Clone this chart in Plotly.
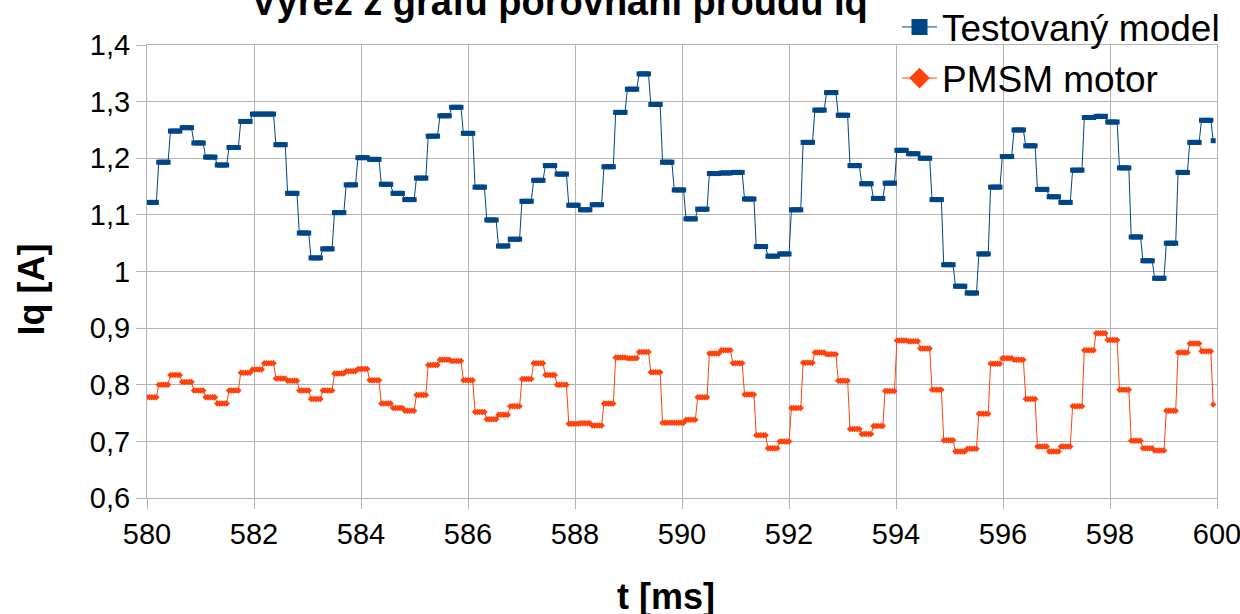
import numpy as np
import plotly.graph_objects as go

# ---- data ----
t_start_ms = 580.0          # first sample time
step_ms = 0.219             # duration of one held step
samples_per_step = 5        # samples drawn within each step
t_end_ms = 599.93           # last sample time

testovany_model = [
    1.122, 1.193, 1.248, 1.254, 1.227, 1.202, 1.188, 1.219, 1.265, 1.278,
    1.278, 1.224, 1.138, 1.068, 1.024, 1.040, 1.104, 1.153, 1.201, 1.198,
    1.154, 1.138, 1.127, 1.165, 1.239, 1.275, 1.290, 1.244, 1.149, 1.091,
    1.045, 1.057, 1.124, 1.161, 1.187, 1.172, 1.117, 1.109, 1.118, 1.185,
    1.281, 1.322, 1.349, 1.295, 1.193, 1.144, 1.093, 1.110, 1.173, 1.174,
    1.175, 1.128, 1.044, 1.027, 1.031, 1.109, 1.228, 1.285, 1.316, 1.276,
    1.187, 1.155, 1.129, 1.156, 1.214, 1.208, 1.200, 1.127, 1.012, 0.974,
    0.962, 1.031, 1.149, 1.203, 1.250, 1.222, 1.145, 1.132, 1.122, 1.179,
    1.272, 1.274, 1.264, 1.183, 1.061, 1.019, 0.988, 1.050, 1.175, 1.228,
    1.267, 1.231,
]

pmsm_motor = [
    0.778, 0.800, 0.817, 0.805, 0.790, 0.778, 0.767, 0.790, 0.821, 0.827,
    0.838, 0.811, 0.807, 0.790, 0.775, 0.790, 0.820, 0.824, 0.828, 0.808,
    0.767, 0.759, 0.754, 0.782, 0.835, 0.844, 0.842, 0.808, 0.752, 0.739,
    0.747, 0.762, 0.810, 0.838, 0.817, 0.800, 0.731, 0.732, 0.728, 0.767,
    0.848, 0.847, 0.858, 0.822, 0.733, 0.733, 0.738, 0.778, 0.855, 0.861,
    0.838, 0.783, 0.711, 0.688, 0.700, 0.759, 0.839, 0.857, 0.854, 0.807,
    0.722, 0.713, 0.727, 0.789, 0.878, 0.877, 0.864, 0.791, 0.702, 0.682,
    0.687, 0.749, 0.837, 0.847, 0.844, 0.775, 0.691, 0.682, 0.691, 0.762,
    0.861, 0.891, 0.879, 0.791, 0.701, 0.688, 0.684, 0.754, 0.857, 0.873,
    0.859, 0.765,
]

series_names = ["Testovaný model", "PMSM motor"]
x_tick_vals = [580, 582, 584, 586, 588, 590, 592, 594, 596, 598, 600]
x_tick_labels = ["580", "582", "584", "586", "588", "590", "592", "594", "596", "598", "600"]
y_tick_vals = [0.6, 0.7, 0.8, 0.9, 1.0, 1.1, 1.2, 1.3, 1.4]
y_tick_labels = ["0,6", "0,7", "0,8", "0,9", "1", "1,1", "1,2", "1,3", "1,4"]

title_text = "Výřez z grafu porovnání proudu Iq"
x_title = "t [ms]"
y_title = "Iq [A]"

# ---- expand held steps to sample points ----
def sampled(values):
    n = len(values) * samples_per_step
    t = t_start_ms + np.arange(n) * (step_ms / samples_per_step)
    y = np.repeat(np.asarray(values, dtype=float), samples_per_step)
    keep = t <= t_end_ms + 1e-9
    return t[keep], y[keep]

BLUE = "#004586"
ORANGE = "#ff420e"
GRID = "#b3b3b3"
FONT = "Liberation Sans, Arial, sans-serif"

fig = go.Figure()

tb, yb = sampled(testovany_model)
to, yo = sampled(pmsm_motor)

fig.add_trace(go.Scatter(
    x=tb, y=yb, mode="lines+markers", showlegend=False,
    line=dict(color=BLUE, width=1),
    marker=dict(symbol="square", size=5, color=BLUE, line=dict(width=0)),
))
fig.add_trace(go.Scatter(
    x=to, y=yo, mode="lines+markers", showlegend=False,
    line=dict(color=ORANGE, width=1),
    marker=dict(symbol="diamond", size=5, color=ORANGE, line=dict(width=0)),
))

# legend entries with larger symbols
fig.add_trace(go.Scatter(
    x=[None], y=[None], mode="lines+markers", name=series_names[0],
    line=dict(color=BLUE, width=1),
    marker=dict(symbol="square", size=16, color=BLUE),
))
fig.add_trace(go.Scatter(
    x=[None], y=[None], mode="lines+markers", name=series_names[1],
    line=dict(color=ORANGE, width=1),
    marker=dict(symbol="diamond", size=18, color=ORANGE),
))

L, R, T, B = 147, 23, 45, 116
W, H = 1240, 614
pw, ph = W - L - R, H - T - B

def px_x(px):
    return (px - L) / pw

def px_y(py):
    return (H - B - py) / ph

fig.update_layout(
    template="none",
    width=W, height=H,
    margin=dict(l=L, r=R, t=T, b=B, pad=0, autoexpand=False),
    paper_bgcolor="white", plot_bgcolor="white",
    font=dict(family=FONT, color="black", size=29),
    title=dict(
        text=title_text, x=559.5 / W, xref="container", xanchor="center",
        y=1 - 1.7 / H, yref="container", yanchor="middle",
        font=dict(family=FONT, size=38, weight="bold", color="black"),
    ),
    showlegend=True,
    legend=dict(
        x=px_x(897), y=px_y(-3.6), xanchor="left", yanchor="top",
        xref="paper", yref="paper",
        font=dict(family=FONT, size=37, color="black"),
        bgcolor="rgba(0,0,0,0)", borderwidth=0, tracegroupgap=0,
        itemwidth=35,
    ),
    xaxis=dict(
        range=[580, 600], tickmode="array", tickvals=x_tick_vals, ticktext=x_tick_labels,
        showgrid=True, gridcolor=GRID, gridwidth=1,
        showline=True, linecolor=GRID, linewidth=1, mirror=True,
        ticks="outside", ticklen=10, tickcolor=GRID, tickwidth=1,
        tickfont=dict(family=FONT, size=29, color="black"),
        ticklabeloverflow="allow",
        zeroline=False, automargin=False,
    ),
    yaxis=dict(
        range=[0.6, 1.4], tickmode="array", tickvals=y_tick_vals, ticktext=y_tick_labels,
        showgrid=True, gridcolor=GRID, gridwidth=1,
        showline=True, linecolor=GRID, linewidth=1, mirror=True,
        ticks="outside", ticklen=10, tickcolor=GRID, tickwidth=1,
        tickfont=dict(family=FONT, size=29, color="black"),
        ticklabeloverflow="allow",
        zeroline=False, automargin=False,
    ),
    annotations=[
        dict(text=x_title, xref="paper", yref="paper", x=px_x(665.8), y=px_y(596.5),
             xanchor="center", yanchor="middle", showarrow=False,
             font=dict(family=FONT, size=36, weight="bold", color="black")),
        dict(text=y_title, xref="paper", yref="paper", x=px_x(30.5), y=px_y(290),
             xanchor="center", yanchor="middle", showarrow=False, textangle=-90,
             font=dict(family=FONT, size=36, weight="bold", color="black")),
    ],
)

fig.write_html(
    "out.html",
    config={"displayModeBar": False},
    post_script="document.body.style.margin='0';document.body.style.overflow='hidden';",
)
